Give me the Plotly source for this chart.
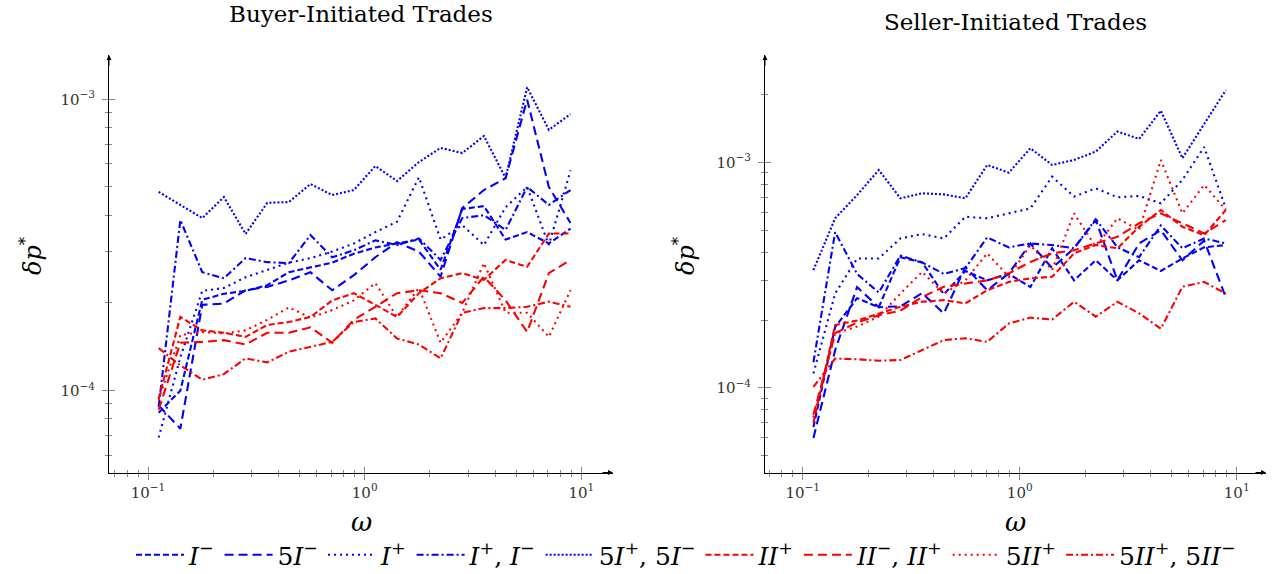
import plotly.graph_objects as go

# omega grid (common to all series)
omega = [0.112, 0.141, 0.178, 0.224, 0.282, 0.355, 0.447, 0.562, 0.708, 0.891,
         1.12, 1.41, 1.78, 2.24, 2.82, 3.55, 4.47, 5.62, 7.08, 8.91]

SCALE = 1e-4  # values below are in units of 1e-4

series_names = [
    "<i>I</i><sup>−</sup>",
    "5<i>I</i><sup>−</sup>",
    "<i>I</i><sup>+</sup>",
    "<i>I</i><sup>+</sup>, <i>I</i><sup>−</sup>",
    "5<i>I</i><sup>+</sup>, 5<i>I</i><sup>−</sup>",
    "<i>II</i><sup>+</sup>",
    "<i>II</i><sup>−</sup>, <i>II</i><sup>+</sup>",
    "5<i>II</i><sup>+</sup>",
    "5<i>II</i><sup>+</sup>, 5<i>II</i><sup>−</sup>",
]

# Buyer-initiated trades
buy_Im = [0.84, 1.00, 2.05, 2.15, 2.20, 2.30, 2.55, 2.65, 2.75, 2.95, 3.10, 3.20, 3.30, 2.60, 4.20, 4.30, 3.30, 3.50, 3.20, 3.60]
buy_5Im = [0.89, 0.74, 1.97, 1.99, 2.21, 2.27, 2.39, 2.55, 2.21, 2.49, 2.87, 3.23, 3.00, 2.46, 4.23, 4.88, 5.36, 9.97, 5.00, 3.76]
buy_Ip = [0.69, 1.30, 2.20, 2.25, 2.45, 2.60, 2.75, 2.85, 3.00, 3.20, 3.50, 3.80, 5.40, 3.30, 3.70, 3.16, 4.26, 5.00, 3.16, 5.70]
buy_IpIm = [0.88, 3.85, 2.55, 2.43, 2.85, 2.76, 2.74, 3.42, 2.87, 3.03, 3.28, 3.16, 3.33, 2.81, 3.91, 4.00, 3.56, 5.00, 4.34, 4.88]
buy_5Ip5Im = [4.81, 4.34, 3.91, 4.62, 3.45, 4.41, 4.44, 5.12, 4.69, 4.88, 5.90, 5.24, 6.09, 6.81, 6.54, 7.48, 5.37, 11.0, 7.85, 8.90]
buy_IIp = [0.94, 1.79, 1.61, 1.58, 1.53, 1.68, 1.72, 1.79, 2.04, 2.16, 1.97, 1.79, 2.16, 2.43, 2.53, 2.40, 2.81, 2.66, 3.46, 3.46]
buy_IImIIp = [0.86, 1.46, 1.47, 1.49, 1.44, 1.58, 1.58, 1.65, 1.46, 1.75, 1.94, 2.16, 2.21, 2.16, 2.00, 2.46, 2.04, 1.59, 2.53, 2.81]
buy_5IIp = [0.93, 1.55, 1.59, 1.57, 1.61, 1.75, 1.93, 1.78, 1.89, 2.04, 2.34, 1.79, 2.25, 1.46, 1.85, 2.74, 1.85, 1.85, 1.53, 2.21]
buy_5IIp5IIm = [1.40, 1.22, 1.09, 1.14, 1.29, 1.25, 1.36, 1.41, 1.47, 1.72, 1.77, 1.51, 1.44, 1.29, 1.85, 1.92, 1.92, 1.94, 2.02, 1.94]

# Seller-initiated trades
sell_Im = [0.67, 1.86, 2.50, 2.28, 3.80, 3.60, 2.60, 3.30, 3.00, 3.20, 2.80, 4.16, 3.00, 3.68, 3.00, 3.68, 3.30, 3.75, 4.20, 4.30]
sell_5Im = [0.60, 1.47, 2.80, 2.28, 2.30, 2.63, 2.14, 3.43, 2.71, 3.22, 4.37, 3.40, 4.16, 5.55, 3.00, 4.37, 5.00, 3.68, 4.50, 2.52]
sell_Ip = [1.16, 2.62, 3.75, 3.75, 4.60, 4.81, 4.60, 5.74, 5.65, 5.94, 6.25, 8.64, 7.05, 7.67, 7.00, 7.10, 6.58, 8.36, 11.7, 6.25]
sell_IpIm = [1.30, 4.90, 3.20, 2.65, 3.86, 3.60, 3.20, 3.40, 4.65, 4.20, 4.37, 4.30, 4.16, 5.60, 4.20, 3.80, 5.25, 4.16, 4.60, 4.37]
sell_5Ip5Im = [3.33, 5.65, 7.16, 9.25, 6.93, 7.29, 7.21, 6.93, 9.74, 9.00, 11.55, 9.74, 10.25, 11.16, 13.7, 12.7, 16.95, 10.43, 14.8, 20.9]
sell_IIp = [0.70, 1.90, 1.99, 2.14, 2.29, 2.41, 2.45, 2.37, 2.71, 2.95, 3.06, 3.11, 3.95, 4.30, 4.16, 5.18, 6.15, 5.18, 4.75, 6.15]
sell_IImIIp = [0.76, 1.75, 1.95, 2.10, 2.20, 2.53, 2.81, 2.90, 3.00, 3.22, 3.62, 3.95, 4.08, 4.37, 4.68, 5.37, 5.94, 5.37, 4.84, 5.55]
sell_5IIp = [0.74, 1.74, 1.87, 2.07, 2.62, 3.27, 2.62, 3.00, 3.95, 3.11, 4.30, 3.33, 5.94, 4.22, 5.65, 5.01, 10.25, 5.94, 7.94, 6.15]
sell_5IIp5IIm = [1.01, 1.35, 1.34, 1.32, 1.33, 1.47, 1.63, 1.66, 1.60, 1.93, 2.05, 2.01, 2.41, 2.07, 2.41, 2.14, 1.83, 2.81, 2.95, 2.62]

x_ticks = [0.1, 1, 10]
x_ticktext = ["10<sup>−1</sup>", "10<sup>0</sup>", "10<sup>1</sup>"]
x_minor = [0.07, 0.08, 0.09] + [m * 0.1 for m in range(2, 10)] + list(range(2, 10)) + [20]
y_ticks = [1e-4, 1e-3]
y_ticktext = ["10<sup>−4</sup>", "10<sup>−3</sup>"]
y_minor = [m * 1e-5 for m in range(3, 10)] + [m * 1e-4 for m in range(2, 10)] + [m * 1e-3 for m in range(2, 4)]

buy = [buy_Im, buy_5Im, buy_Ip, buy_IpIm, buy_5Ip5Im, buy_IIp, buy_IImIIp, buy_5IIp, buy_5IIp5IIm]
sell = [sell_Im, sell_5Im, sell_Ip, sell_IpIm, sell_5Ip5Im, sell_IIp, sell_IImIIp, sell_5IIp, sell_5IIp5IIm]

colors = ["#0000ff"] * 5 + ["#ff0000"] * 4
dashes = ["6px,3px", "9px,5px", "2px,4px", "7px,3px,2px,3px", "2px,2px",
          "6px,3px", "9px,5px", "2px,4px", "7px,3px,2px,3px"]

W, H = 1282, 574
FONT = "DejaVu Serif"
LW = 2.1

fig = go.Figure()
for i in range(9):
    fig.add_trace(go.Scatter(
        x=omega, y=[v * SCALE for v in buy[i]], mode="lines", name=series_names[i],
        line=dict(color=colors[i], dash=dashes[i], width=LW),
        xaxis="x", yaxis="y", legendgroup=str(i), showlegend=True))
for i in range(9):
    fig.add_trace(go.Scatter(
        x=omega, y=[v * SCALE for v in sell[i]], mode="lines", name=series_names[i],
        line=dict(color=colors[i], dash=dashes[i], width=LW),
        xaxis="x2", yaxis="y2", legendgroup=str(i), showlegend=False))
# empty traces to carry the inner tick twin axes
for xa, ya in [("x3", "y3"), ("x4", "y4")]:
    fig.add_trace(go.Scatter(x=[None], y=[None], xaxis=xa, yaxis=ya,
                             showlegend=False, hoverinfo="skip"))

# pixel geometry (reference coords)
Lx0, Lx1 = 109, 613
Rx0, Rx1 = 765, 1266
top, bot = 55, 472.5


def px(xp):
    return xp / W


def py(yp):
    return 1 - yp / H


TICKC = "#888"
base = dict(type="log", showgrid=False, zeroline=False, tickmode="array")
LXR = [-1.180, 1.146]
RXR = [-1.174, 1.135]
LYR = [-4.281, -2.848]
RYR = [-4.375, -2.524]


def main_x(dom, rng, anchor):
    return dict(base, domain=dom, range=rng, anchor=anchor, showline=True,
                linecolor="black", linewidth=1, ticks="outside", ticklen=6,
                tickcolor=TICKC, tickvals=x_ticks, ticktext=x_ticktext,
                tickfont=dict(family=FONT, size=15, color="#333"),
                minor=dict(tickvals=x_minor, ticks="outside", ticklen=3, tickcolor=TICKC))


def main_y(dom, rng, anchor):
    return dict(base, domain=dom, range=rng, anchor=anchor, showline=True,
                linecolor="black", linewidth=1, ticks="outside", ticklen=6,
                tickcolor=TICKC, tickvals=y_ticks, ticktext=y_ticktext,
                tickfont=dict(family=FONT, size=15, color="#333"),
                ticklabelstandoff=4,
                minor=dict(tickvals=y_minor, ticks="outside", ticklen=3, tickcolor=TICKC))


def twin(dom, rng, anchor, overl, vals, minor):
    return dict(base, domain=dom, range=rng, anchor=anchor, overlaying=overl,
                showline=False, ticks="inside", ticklen=6, tickcolor=TICKC,
                tickvals=vals, showticklabels=False,
                minor=dict(tickvals=minor, ticks="inside", ticklen=3, tickcolor=TICKC))


LXD = [px(Lx0), px(Lx1)]
RXD = [px(Rx0), px(Rx1)]
YD = [py(bot), py(top)]

fig.update_layout(
    width=W, height=H, margin=dict(l=0, r=0, t=0, b=0, autoexpand=False),
    plot_bgcolor="white", paper_bgcolor="white",
    font=dict(family=FONT, color="black"),
    xaxis=main_x(LXD, LXR, "y"),
    yaxis=main_y(YD, LYR, "x"),
    xaxis2=main_x(RXD, RXR, "y2"),
    yaxis2=main_y(YD, RYR, "x2"),
    xaxis3=twin(LXD, LXR, "y3", "x", x_ticks, x_minor),
    yaxis3=twin(YD, LYR, "x3", "y", y_ticks, y_minor),
    xaxis4=twin(RXD, RXR, "y4", "x2", x_ticks, x_minor),
    yaxis4=twin(YD, RYR, "x4", "y2", y_ticks, y_minor),
    legend=dict(orientation="h", x=px(686), xanchor="center", y=py(555), yanchor="middle",
                font=dict(family=FONT, size=25), bgcolor="rgba(0,0,0,0)",
                tracegroupgap=0, itemwidth=48),
    showlegend=True,
)

ann = []
# titles
ann.append(dict(x=px((Lx0 + Lx1) / 2), y=py(14), xref="paper", yref="paper",
                text="Buyer-Initiated Trades", showarrow=False,
                font=dict(family=FONT, size=23), xanchor="center", yanchor="middle"))
ann.append(dict(x=px((Rx0 + Rx1) / 2), y=py(22), xref="paper", yref="paper",
                text="Seller-Initiated Trades", showarrow=False,
                font=dict(family=FONT, size=23), xanchor="center", yanchor="middle"))
# axis titles
for cx in [(Lx0 + Lx1) / 2, (Rx0 + Rx1) / 2]:
    ann.append(dict(x=px(cx), y=py(522), xref="paper", yref="paper", text="<i>ω</i>",
                    showarrow=False, font=dict(family=FONT, size=26),
                    xanchor="center", yanchor="middle"))
for cx in [31, 684]:
    ann.append(dict(x=px(cx), y=py(256), xref="paper", yref="paper",
                    text="<i>δp</i><sup>*</sup>", showarrow=False, textangle=-90,
                    font=dict(family=FONT, size=24), xanchor="center", yanchor="middle"))
# axis arrows
for x0, x1 in [(Lx0, Lx1), (Rx0, Rx1)]:
    ann.append(dict(x=px(x1), y=py(bot), xref="paper", yref="paper", text="",
                    showarrow=True, arrowhead=2, arrowsize=1, arrowwidth=1,
                    arrowcolor="black", ax=-12, ay=0))
    ann.append(dict(x=px(x0), y=py(top), xref="paper", yref="paper", text="",
                    showarrow=True, arrowhead=2, arrowsize=1, arrowwidth=1,
                    arrowcolor="black", ax=0, ay=12))
fig.update_layout(annotations=ann)

fig.write_html("out.html", config={"displayModeBar": False},
               post_script="document.body.style.margin='0';document.body.style.overflow='hidden';")
